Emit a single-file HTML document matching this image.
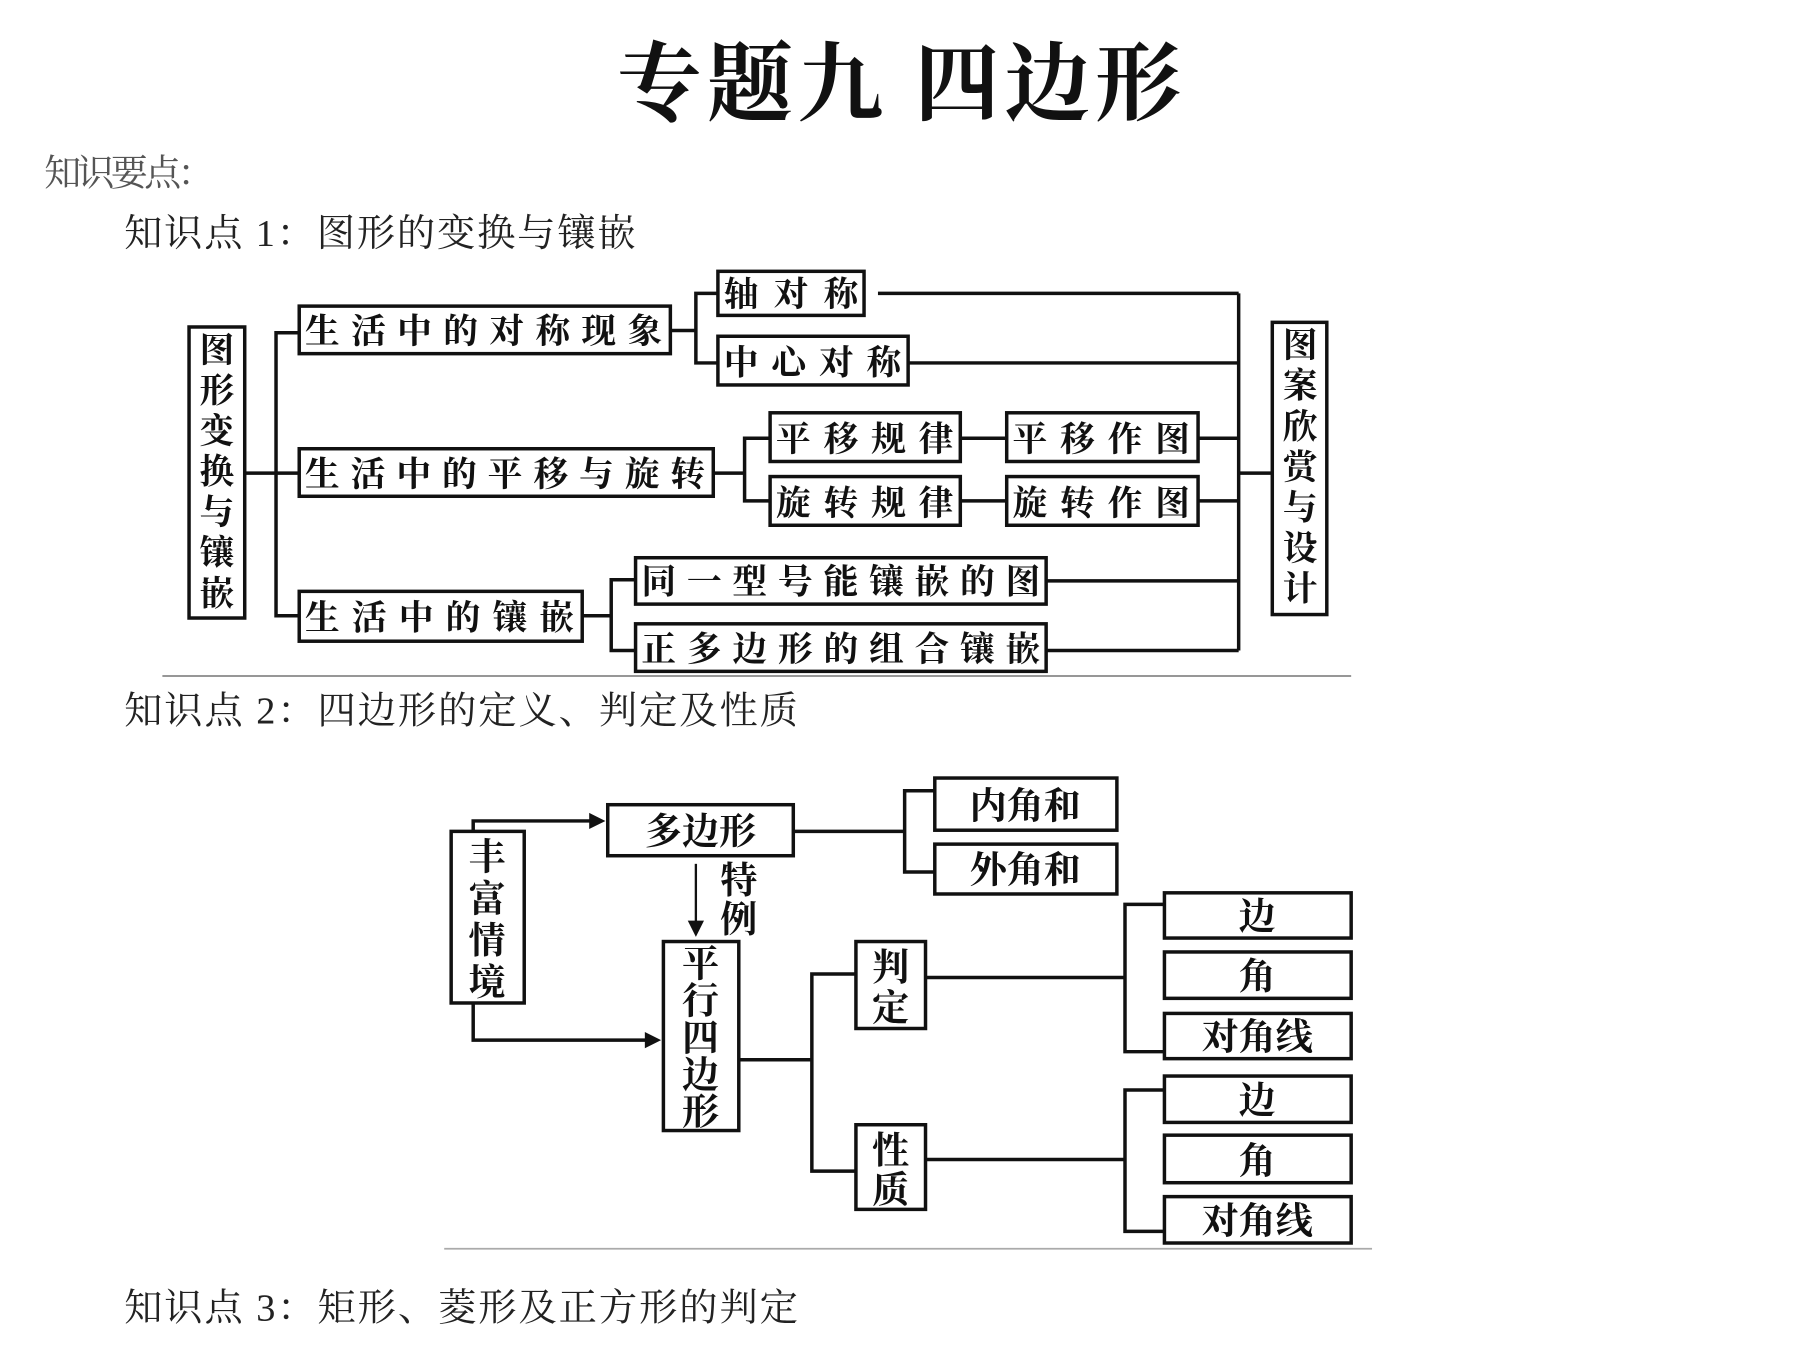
<!DOCTYPE html>
<html><head><meta charset="utf-8"><style>
html,body{margin:0;padding:0;background:#fff;}
svg{display:block;}
text{font-family:"Liberation Serif","Noto Serif CJK SC","Noto Sans CJK SC",serif;}
.b{font-family:"Liberation Sans","Noto Sans CJK SC",sans-serif;font-weight:bold;font-size:30px;fill:#111;}
</style></head><body>
<svg width="1800" height="1352" viewBox="0 0 1552 1166" preserveAspectRatio="none" xmlns="http://www.w3.org/2000/svg">
<rect width="1552" height="1166" fill="#fff"/>
<text x="777" y="98" text-anchor="middle" font-size="74" font-weight="bold" fill="#111" letter-spacing="4">专题九 四边形</text>
<text x="38" y="160" font-size="32" fill="#555" textLength="147">知识要点：</text>
<text x="107" y="212" font-size="33" fill="#222" textLength="441">知识点 1：图形的变换与镶嵌</text>
<text x="107" y="624" font-size="33" fill="#222" textLength="581">知识点 2：四边形的定义、判定及性质</text>
<text x="107" y="1139" font-size="33" fill="#222" textLength="581">知识点 3：矩形、菱形及正方形的判定</text>
<line x1="140" y1="583" x2="1165" y2="583" stroke="#888" stroke-width="1.5"/>
<line x1="383" y1="1077" x2="1183" y2="1077" stroke="#aaa" stroke-width="1.5"/>

<g stroke="#111" stroke-width="3" fill="none">
<rect x="163" y="282" width="48" height="251"/>
<rect x="258" y="264" width="320" height="41"/>
<rect x="258" y="387" width="357" height="41"/>
<rect x="258" y="510" width="244" height="43"/>
<rect x="619" y="234" width="126" height="38"/>
<rect x="619" y="290" width="164" height="42"/>
<rect x="664" y="356" width="164" height="42"/>
<rect x="664" y="411" width="164" height="42"/>
<rect x="868" y="356" width="165" height="42"/>
<rect x="868" y="411" width="165" height="42"/>
<rect x="548" y="481" width="354" height="40"/>
<rect x="548" y="538" width="354" height="41"/>
<rect x="1097" y="278" width="47" height="252"/>
<path d="M211 408H238M258 287H238V531H258M238 408H258"/>
<path d="M578 285H600M619 253H600V313H619"/>
<path d="M757 253H1068M783 313H1068M615 408H642M664 378H642V432H664M828 378H868M828 432H868M1033 378H1068M1033 432H1068"/>
<path d="M502 531H527M548 500H527V561H548M902 501H1068M902 561H1068M1068 253V561M1068 408H1097"/>
<rect x="389" y="717" width="63" height="148"/>
<rect x="524" y="694" width="160" height="44"/>
<rect x="806" y="671" width="157" height="45"/>
<rect x="806" y="728" width="157" height="43"/>
<rect x="572" y="812" width="65" height="163"/>
<rect x="738" y="812" width="60" height="75"/>
<rect x="738" y="970" width="60" height="73"/>
<rect x="1004" y="770" width="161" height="39"/>
<rect x="1004" y="821" width="161" height="40"/>
<rect x="1004" y="874" width="161" height="39"/>
<rect x="1004" y="928" width="161" height="40"/>
<rect x="1004" y="979" width="161" height="41"/>
<rect x="1004" y="1032" width="161" height="40"/>
<path d="M408 717V708H512M408 865V897H560"/>
<path d="M684 717H780M806 682H780V752H806"/>
<path d="M600 745V796" stroke-width="2"/>
<path d="M637 914H700M738 840H700V1010H738"/>
<path d="M798 843H970M1004 780H970V907H1004M798 1000H970M1004 940H970V1062H1004"/>
</g>
<g fill="#111">
<path d="M522 708L508 701V715Z"/>
<path d="M570 897L556 890V904Z"/>
<path d="M600 808L593 794H607Z"/>
</g>
<g class="b">
<text x="187" y="312" text-anchor="middle">图</text>
<text x="187" y="347" text-anchor="middle">形</text>
<text x="187" y="382" text-anchor="middle">变</text>
<text x="187" y="417" text-anchor="middle">换</text>
<text x="187" y="452" text-anchor="middle">与</text>
<text x="187" y="487" text-anchor="middle">镶</text>
<text x="187" y="522" text-anchor="middle">嵌</text>
<text x="1121" y="308" text-anchor="middle">图</text>
<text x="1121" y="343" text-anchor="middle">案</text>
<text x="1121" y="378" text-anchor="middle">欣</text>
<text x="1121" y="413" text-anchor="middle">赏</text>
<text x="1121" y="448" text-anchor="middle">与</text>
<text x="1121" y="483" text-anchor="middle">设</text>
<text x="1121" y="518" text-anchor="middle">计</text>
<text x="263" y="296" textLength="308">生活中的对称现象</text>
<text x="263" y="419" textLength="345">生活中的平移与旋转</text>
<text x="263" y="543" textLength="232">生活中的镶嵌</text>
<text x="624" y="264" textLength="116">轴对称</text>
<text x="624" y="323" textLength="153">中心对称</text>
<text x="669" y="389" textLength="153">平移规律</text>
<text x="669" y="444" textLength="153">旋转规律</text>
<text x="873" y="389" textLength="153">平移作图</text>
<text x="873" y="444" textLength="153">旋转作图</text>
<text x="553" y="512" textLength="344">同一型号能镶嵌的图</text>
<text x="553" y="570" textLength="344">正多边形的组合镶嵌</text>
</g>
<g class="b" style="font-size:32px">
<text x="420" y="750" text-anchor="middle">丰</text>
<text x="420" y="786" text-anchor="middle">富</text>
<text x="420" y="822" text-anchor="middle">情</text>
<text x="420" y="858" text-anchor="middle">境</text>
<text x="604" y="728" text-anchor="middle">多边形</text>
<text x="637" y="770" text-anchor="middle">特</text>
<text x="637" y="804" text-anchor="middle">例</text>
<text x="604" y="842" text-anchor="middle">平</text>
<text x="604" y="874" text-anchor="middle">行</text>
<text x="604" y="906" text-anchor="middle">四</text>
<text x="604" y="938" text-anchor="middle">边</text>
<text x="604" y="970" text-anchor="middle">形</text>
<text x="768" y="845" text-anchor="middle">判</text>
<text x="768" y="880" text-anchor="middle">定</text>
<text x="768" y="1003" text-anchor="middle">性</text>
<text x="768" y="1037" text-anchor="middle">质</text>
<text x="884" y="706" text-anchor="middle">内角和</text>
<text x="884" y="761" text-anchor="middle">外角和</text>
<text x="1084" y="801" text-anchor="middle">边</text>
<text x="1084" y="853" text-anchor="middle">角</text>
<text x="1084" y="905" text-anchor="middle">对角线</text>
<text x="1084" y="960" text-anchor="middle">边</text>
<text x="1084" y="1012" text-anchor="middle">角</text>
<text x="1084" y="1064" text-anchor="middle">对角线</text>
</g>
</svg>
</body></html>
